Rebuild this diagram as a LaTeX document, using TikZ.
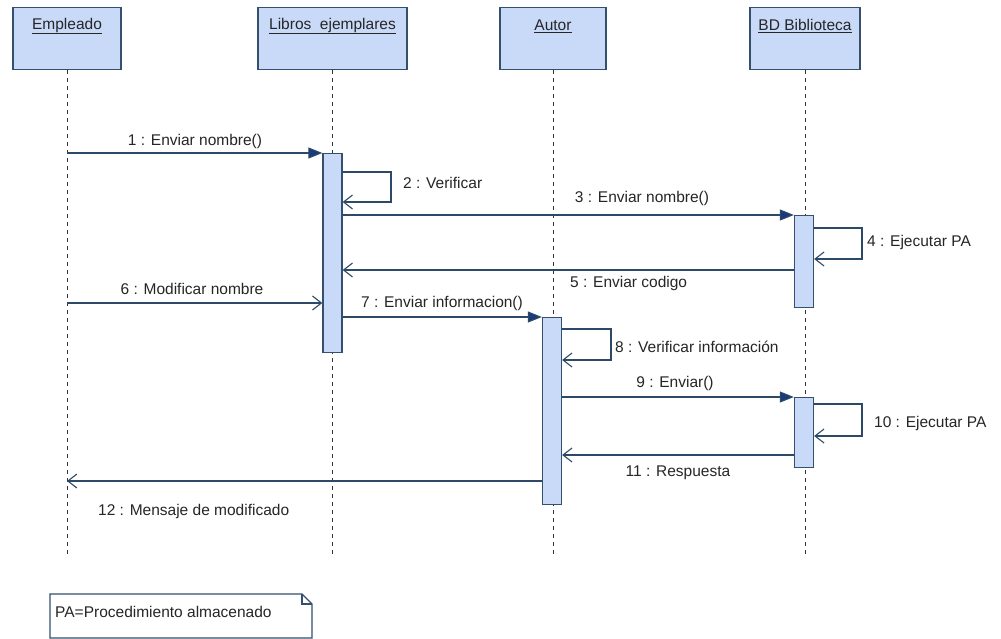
\documentclass[tikz,border=0pt]{standalone}
\usepackage{fontspec}
\setmainfont{Liberation Sans}
\usetikzlibrary{arrows.meta}
\definecolor{boxfill}{HTML}{C9D9F8}
\definecolor{edge}{HTML}{34506E}
\definecolor{msg}{HTML}{2C4A68}
\definecolor{tipc}{HTML}{1B3A7A}
\begin{document}
\begin{tikzpicture}[x=1pt,y=-1pt,
  every node/.style={font=\fontsize{15.5}{18}\selectfont, text=black!85, inner sep=0pt},
  headbox/.style={draw=edge, fill=boxfill, line width=1.3pt, anchor=north, minimum height=62pt},
  bar/.style={draw=edge, fill=boxfill, line width=1.3pt, anchor=north, minimum width=19pt},
  life/.style={draw=black!80, line width=1pt, dash pattern=on 4pt off 4pt},
  call/.style={draw=msg, line width=1.1pt, -{Triangle[length=14pt,width=11pt,fill=tipc]}},
  reply/.style={draw=msg, line width=1.1pt, -{Straight Barb[length=9pt,width=14pt]}},
  lbl/.style={anchor=center},
]
\useasboundingbox (0,0) rectangle (1001,639);
\fill[white] (0,0) rectangle (1001,639);

% object heads
\node[headbox, minimum width=108pt] (hE) at (67,7) {};
\node[headbox, minimum width=149pt] (hL) at (332.5,7) {};
\node[headbox, minimum width=106pt] (hA) at (553,7) {};
\node[headbox, minimum width=110pt] (hB) at (805,7) {};
\node (tE) at (67,26) {\underline{Empleado}};
\node (tL) at (332.5,26) {\underline{Libros\ \ ejemplares}};
\node (tA) at (553,26) {\underline{Autor}};
\node (tB) at (805,26) {\underline{BD Biblioteca}};

% lifelines
\draw[life] (hE.south) -- (hE.south |- 0,557);
\draw[life] (hL.south) -- (hL.south |- 0,557);
\draw[life] (hA.south) -- (hA.south |- 0,557);
\draw[life] (hB.south) -- (hB.south |- 0,557);

% activation bars
\node[bar, minimum height=199pt] (bL) at (332.5,153) {};
\node[bar, minimum height=92pt] (bB1) at (804,215) {};
\node[bar, minimum height=187pt] (bA) at (552,317) {};
\node[bar, minimum height=70pt] (bB2) at (804,397) {};

% message end points on the Empleado lifeline
\coordinate (e1) at (67,153);
\coordinate (e6) at (67,303);
\coordinate (e12) at (67,481);

% messages
\draw[call] (e1) -- (bL.north west);
\draw[reply] (bL.east |- 0,172) -- (391,172) -- (391,202) -- (bL.east |- 0,202);
\draw[call] (bL.east |- bB1.north) -- (bB1.north west);
\draw[reply] (bB1.east |- 0,228) -- (862,228) -- (862,259) -- (bB1.east |- 0,259);
\draw[reply] (bB1.west |- 0,270) -- (bL.east |- 0,270);
\draw[reply] (e6) -- (bL.west |- e6);
\draw[call] (bL.east |- bA.north) -- (bA.north west);
\draw[reply] (bA.east |- 0,329) -- (611,329) -- (611,360) -- (bA.east |- 0,360);
\draw[call] (bA.east |- bB2.north) -- (bB2.north west);
\draw[reply] (bB2.east |- 0,404) -- (862,404) -- (862,436) -- (bB2.east |- 0,436);
\draw[reply] (bB2.west |- 0,455) -- (bA.east |- 0,455);
\draw[reply] (bA.west |- e12) -- (e12);

% message labels
\node[lbl] (l1) at (195,141) {1 : Enviar nombre()};
\node[anchor=west] (l2) at (403,183) {2 : Verificar};
\node[lbl] (l3) at (642,198) {3 : Enviar nombre()};
\node[anchor=west] (l4) at (867,242) {4 : Ejecutar PA};
\node[anchor=west] (l5) at (570,283) {5 : Enviar codigo};
\node[lbl] (l6) at (192,289) {6 : Modificar nombre};
\node[lbl] (l7) at (442,303) {7 : Enviar informacion()};
\node[anchor=west] (l8) at (615,347) {8 : Verificar información};
\node[lbl] (l9) at (675,383) {9 : Enviar()};
\node[anchor=west] (l10) at (874,423) {10 : Ejecutar PA};
\node[lbl] (l11) at (678,473) {11 : Respuesta};
\node[anchor=west] (l12) at (98,511) {12 : Mensaje de modificado};

% note with folded corner
\draw[draw=edge, line width=1.1pt, fill=white]
  (50,594) -- (302,594) -- (312,604) -- (312,638) -- (50,638) -- cycle;
\draw[draw=edge, line width=1.1pt] (302,594) -- (302,604) -- (312,604);
\node[anchor=west] (pa) at (55,612) {PA=Procedimiento almacenado};
\end{tikzpicture}
\end{document}
